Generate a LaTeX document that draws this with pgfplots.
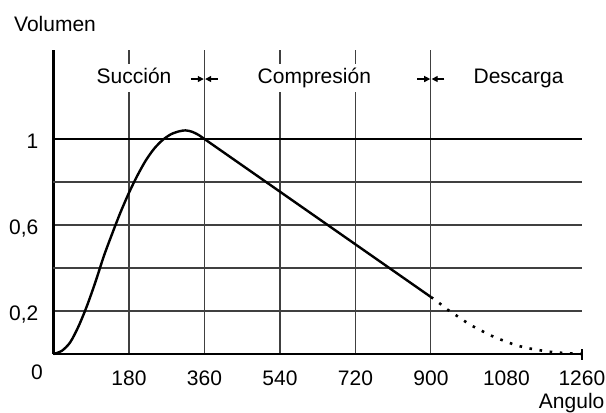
\documentclass[border=0pt]{standalone}
\usepackage{fontspec}
\setmainfont{Liberation Sans}
\usepackage{pgfplots}
\pgfplotsset{compat=1.18}
\usetikzlibrary{arrows.meta}

\begin{document}
\fontsize{21bp}{24bp}\selectfont
\begin{tikzpicture}[x=1bp,y=1bp]
\useasboundingbox (-53.5,-58) rectangle (552.5,354);
\begin{axis}[
    at={(0,0)}, anchor=south west,
    scale only axis,
    width=528.4bp, height=304bp,
    xmin=0, xmax=1260,
    ymin=0, ymax=1.414,
    axis x line=bottom, axis y line=left,
    axis line style={-, line width=2.2bp, black},
    xtick={180,360,540,720,900},
    xticklabels={180,360,540,720,900},
    extra x ticks={1080,1260},
    extra x tick labels={1080,1260},
    extra x tick style={xmajorgrids=false},
    ytick={0.2,0.6,1},
    yticklabels={{0,2},{0,6},1},
    extra y ticks={0.4,0.8},
    extra y tick labels={},
    major tick length=0pt,
    xmajorgrids, ymajorgrids,
    grid style={black!75, line width=1.1bp},
    xticklabel style={anchor=base, inner sep=0pt, yshift=-31bp},
    yticklabel style={anchor=base east, inner sep=0pt, xshift=-15bp, yshift=-9.3bp},
    clip=false,
]
% thick line at 1
\draw[line width=2bp] (axis cs:0,1) -- (axis cs:1260,1);

% volume curve, solid part
\addplot[line width=2.4bp, smooth, tension=0.5] coordinates {
    (0,0)(20,0.015)(40,0.055)(60,0.13)(80,0.225)(100,0.335)
    (120,0.455)(140,0.56)(160,0.66)(180,0.75)(200,0.83)(220,0.9)
    (240,0.955)(260,0.995)(280,1.022)(300,1.036)(315,1.04)(330,1.034)
    (345,1.02)(360,1.0)
};
\addplot[line width=2.4bp] coordinates {
    (360,1.0)(540,0.755)(720,0.51)(900,0.265)
};
% discharge, dotted
\addplot[line width=2.6bp, smooth, dash pattern=on 2.6bp off 7.6bp] coordinates {
    (900,0.265)(916,0.243)(937,0.21)(960,0.18)(981,0.152)(1003,0.126)
    (1026,0.103)(1050,0.08)(1076,0.06)(1100,0.043)(1127,0.029)
    (1155,0.019)(1181,0.011)(1208,0.006)(1234,0.003)(1260,0.0)
};

% tick at the end of the x axis
\draw[line width=1.6bp] (axis cs:1260,0) ++(0,-5.5bp) -- ++(0,11bp);

% phase labels
\tikzset{phase/.style={fill=white, anchor=base, inner xsep=2bp, inner ysep=4bp,
    text height=15bp, text depth=5bp}}
\node[phase] at (axis cs:192,1.26) {Succión};
\node[phase] at (axis cs:622,1.26) {Compresión};
\node[phase] at (axis cs:1109,1.26) {Descarga};

% limit marks
\tikzset{lim/.style={-{Triangle[length=6bp,width=6bp]}, line width=1.2bp}}
\draw[lim] (axis cs:360,1.279) ++(-13.5bp,0) -- ++(12.8bp,0);
\draw[lim] (axis cs:360,1.279) ++(13.5bp,0) -- ++(-12.8bp,0);
\draw[lim] (axis cs:900,1.279) ++(-13.5bp,0) -- ++(12.8bp,0);
\draw[lim] (axis cs:900,1.279) ++(13.5bp,0) -- ++(-12.8bp,0);

% axis titles and origin
\node[anchor=base west, inner sep=0pt] at (axis cs:-94.2,1.498) {Volumen};
\node[anchor=base, inner sep=0pt] at (axis cs:1235.6,-0.2535) {Angulo};
\node[anchor=base, inner sep=0pt] at (axis cs:-39.3,-0.1163) {0};
\end{axis}
\end{tikzpicture}
\end{document}
